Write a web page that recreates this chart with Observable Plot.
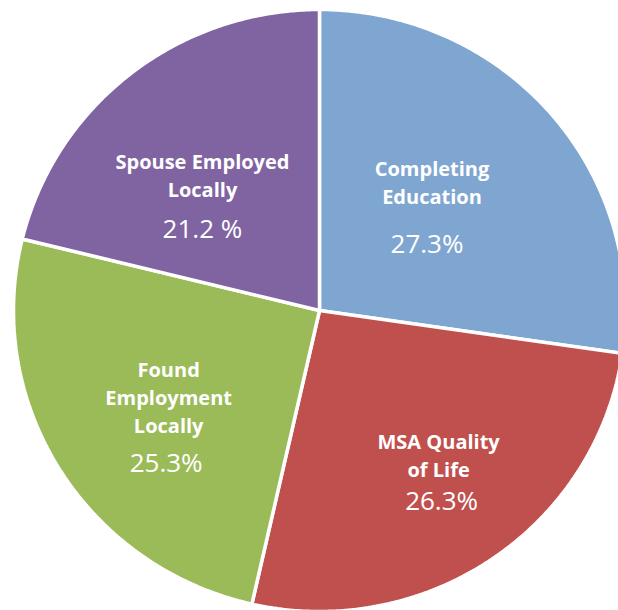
<!DOCTYPE html>
<html>
<head>
<meta charset="utf-8">
<script src="https://cdn.jsdelivr.net/npm/d3@7"></script>
<script src="https://cdn.jsdelivr.net/npm/@observablehq/plot@0.6"></script>
<style>
  html, body { margin: 0; padding: 0; background: #ffffff; }
  #chart svg { display: block; }
</style>
</head>
<body>
<div id="chart"></div>
<script>
// ---- data ----
const categories = ["Completing Education", "MSA Quality of Life", "Found Employment Locally", "Spouse Employed Locally"];
const labelLines = ["Completing\nEducation", "MSA Quality\nof Life", "Found\nEmployment\nLocally", "Spouse Employed\nLocally"];
const percents = [27.3, 26.3, 25.3, 21.2];
const percentLabels = ["27.3%", "26.3%", "25.3%", "21.2 %"];

// ---- style / layout ----
const colors = ["#7fa6d1", "#c0504d", "#9bbb59", "#8064a2"];
const W = 618, H = 610;
const cx = 319, cy = 310;           // pie centre in pixels
const rx = 306, ry = 301;           // pie radii
const labelAngle = [40, 139.4, 246.1, 320.5];   // degrees clockwise from 12 o'clock
const labelRadius = [175, 183, 165, 184];
const pctDx = [-5, 3, -2.5, 0];
const pctDy = [77, 61, 95, 69];
const lineStep = 28;
const boldSize = 20, pctSize = 26;

// ---- build slices from data via d3.pie ----
const arcs = d3.pie().sort(null).startAngle(0).endAngle(2 * Math.PI)(percents);
const slicePts = [];
arcs.forEach((a, i) => {
  const cat = categories[i];
  slicePts.push({cat, x: 0, y: 0});
  const steps = Math.max(2, Math.ceil((a.endAngle - a.startAngle) / (Math.PI / 360)));
  for (let k = 0; k <= steps; k++) {
    const t = a.startAngle + (a.endAngle - a.startAngle) * k / steps;
    slicePts.push({cat, x: rx * Math.sin(t), y: -ry * Math.cos(t)});
  }
  slicePts.push({cat, x: 0, y: 0});
});

const labels = categories.map((cat, i) => {
  const t = labelAngle[i] * Math.PI / 180;
  const x = labelRadius[i] * Math.sin(t);
  const y = -labelRadius[i] * Math.cos(t);
  const n = labelLines[i].split("\n").length;
  return {
    cat,
    text: labelLines[i],
    pct: percentLabels[i],
    x, y: y + (n - 1) * lineStep,
    px: x + pctDx[i], py: y + pctDy[i]
  };
});

const chart = Plot.plot({
  width: W, height: H,
  margin: 0,
  style: {background: "#ffffff"},
  x: {axis: null, domain: [-cx, W - cx], range: [0, W]},
  y: {axis: null, domain: [-cy, H - cy], range: [0, H]},
  color: {domain: categories, range: colors},
  marks: [
    Plot.line(slicePts, {
      x: "x", y: "y", z: "cat", fill: "cat",
      stroke: "#ffffff", strokeWidth: 3.5, strokeLinejoin: "miter"
    }),
    Plot.text(labels, {
      x: "x", y: "y", text: "text",
      fill: "#ffffff", fontWeight: "bold", fontSize: boldSize,
      fontFamily: "Open Sans", lineAnchor: "bottom", lineHeight: lineStep / boldSize
    }),
    Plot.text(labels, {
      x: "px", y: "py", text: "pct",
      fill: "#ffffff", fontSize: pctSize,
      fontFamily: "Open Sans", lineAnchor: "bottom"
    })
  ]
});
document.getElementById("chart").append(chart);
</script>
</body>
</html>
